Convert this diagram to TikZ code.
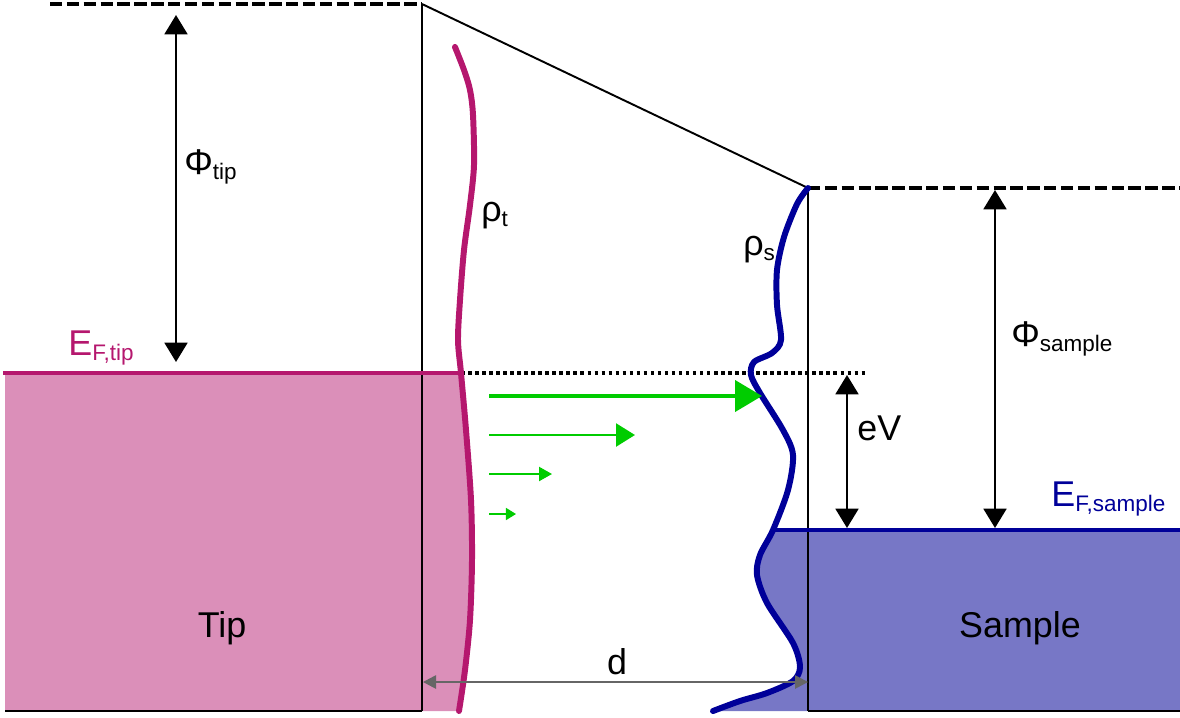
\documentclass[tikz,border=0pt]{standalone}
\usepackage{fontspec}
\setmainfont{Liberation Sans}
\usepackage{tikz}
\usetikzlibrary{arrows.meta}
\definecolor{tipfill}{HTML}{DB8FB9}
\definecolor{tipline}{HTML}{B5176E}
\definecolor{smpfill}{HTML}{7777C6}
\definecolor{smpline}{HTML}{000099}
\definecolor{tunnel}{HTML}{00CC00}
\newcommand{\lowsub}[1]{\raisebox{-3pt}{\fontsize{12.8}{14}\selectfont #1}}

\begin{document}
\begin{tikzpicture}[x=0.02cm,y=-0.02cm,
  lbl/.style={inner sep=0pt,anchor=base west,font=\fontsize{20.4}{24}\selectfont},
  lvl/.style={dash pattern=on 7pt off 2.6pt,line width=2.6pt},
  wall/.style={line width=1.4pt},
  dos/.style={line width=3.4pt,line cap=round},
  dim/.style={{Triangle[length=11pt,width=13pt]}-{Triangle[length=11pt,width=13pt]},line width=1.4pt},
  gap/.style={{Triangle[length=7.4pt,width=7.6pt]}-{Triangle[length=7.4pt,width=7.6pt]},line width=0.9pt,draw=black!60},
  flow/.style args={#1/#2/#3}{-{Triangle[length=#1pt,width=#2pt]},line width=#3pt,draw=tunnel}]
\useasboundingbox (0,0) rectangle (1180,717);
% levels and walls
\coordinate (tipTop) at (422,4);
\coordinate (tipBot) at (422,711);
\coordinate (smpTop) at (808,188);
\coordinate (smpBot) at (808,711);
\coordinate (vacL) at (50,4);
\coordinate (vacR) at (1180,188);
\coordinate (efTL) at (3,373);
\coordinate (efTR) at (461,373);
\coordinate (efTE) at (865,373);
\coordinate (efSL) at (773,530);
\coordinate (efSR) at (1180,530);
\coordinate (botL) at (5,711);
\coordinate (botR) at (1180,711);
% filled states
\fill[tipfill] (botL) |- (efTR) -- plot[smooth] coordinates {(461,373) (466,430) (471,500) (472,560) (470,620) (465,670) (459,711)} -- cycle;
\fill[smpfill] (efSR) -- (efSL) -- plot[smooth] coordinates {(773,530) (760,555) (757,575) (767,603) (793,643) (800,667) (793,681) (767,693) (740,701) (713,711)} -- (botR) -- cycle;
\draw[wall] (tipTop) -- (tipBot);
\draw[wall] (smpTop) -- (smpBot);
\draw[line width=1.1pt] (tipTop) -- (smpTop);
\draw[wall] (botL) -- (tipBot);
\draw[wall] (smpBot) -- (botR);
\draw[lvl] (vacL) -- (tipTop);
\draw[lvl] (smpTop) -- (vacR);
\draw[tipline,line width=2.3pt] (efTL) -- (efTR);
\draw[smpline,line width=2.3pt] (efSL) -- (efSR);
\draw[line width=2pt,dash pattern=on 2pt off 2pt] (efTR) -- (efTE);
% densities of states
\draw[tipline,dos] plot[smooth] coordinates {(455,47) (464,70) (470,90) (473,115) (474,165) (470,205) (464,250) (460,300) (458,340) (461,373) (466,430) (471,500) (472,560) (470,620) (465,670) (459,711)};
\draw[smpline,dos] plot[smooth] coordinates {(808,188) (797,204) (784,237) (777,270) (777,305) (781,340) (772,353) (754,362) (751,375) (760,393) (783,430) (793,455) (788,490) (773,530) (760,555) (757,575) (767,603) (793,643) (800,667) (793,681) (767,693) (740,701) (713,711)};
% dimensions
\coordinate (phiTa) at (176,362);
\coordinate (phiTb) at (176,15);
\coordinate (phiSa) at (995,190);
\coordinate (phiSb) at (995,528);
\coordinate (eVa) at (847,375);
\coordinate (eVb) at (847,528);
\coordinate (dA) at (423,682);
\coordinate (dB) at (808,682);
\draw[dim] (phiTa) -- (phiTb);
\draw[dim] (phiSa) -- (phiSb);
\draw[dim] (eVa) -- (eVb);
\draw[gap] (dA) -- (dB);
% tunnelling current
\foreach \y/\xe/\hl/\hw/\lw [count=\i] in {396/762/15.3/17.6/2.3, 435/635/10.8/13/1.6, 474/552/7.4/8/1.2, 514/516/5.7/6.8/0.9}{
  \coordinate (fs\i) at (489,\y);
  \coordinate (fe\i) at (\xe,\y);
  \draw[flow=\hl/\hw/\lw] (fs\i) -- (fe\i);
}
% labels
\node[lbl] (phiT) at (184,174) {Φ\lowsub{tip}};
\node[lbl] (rhoT) at (481,221) {ρ\lowsub{t}};
\node[lbl] (rhoS) at (743,255) {ρ\lowsub{s}};
\node[lbl] (phiS) at (1011,346) {Φ\lowsub{sample}};
\node[lbl,text=tipline] (efT) at (68,355) {E\lowsub{F,tip}};
\node[lbl] (eV) at (857,440) {eV};
\node[lbl,text=smpline] (efS) at (1051,506) {E\lowsub{F,sample}};
\node[lbl,anchor=base] (tipL) at (222,637) {Tip};
\node[lbl,anchor=base] (smpL) at (1020,637) {Sample};
\node[lbl,anchor=base] (dL) at (617,674) {d};
\end{tikzpicture}
\end{document}
